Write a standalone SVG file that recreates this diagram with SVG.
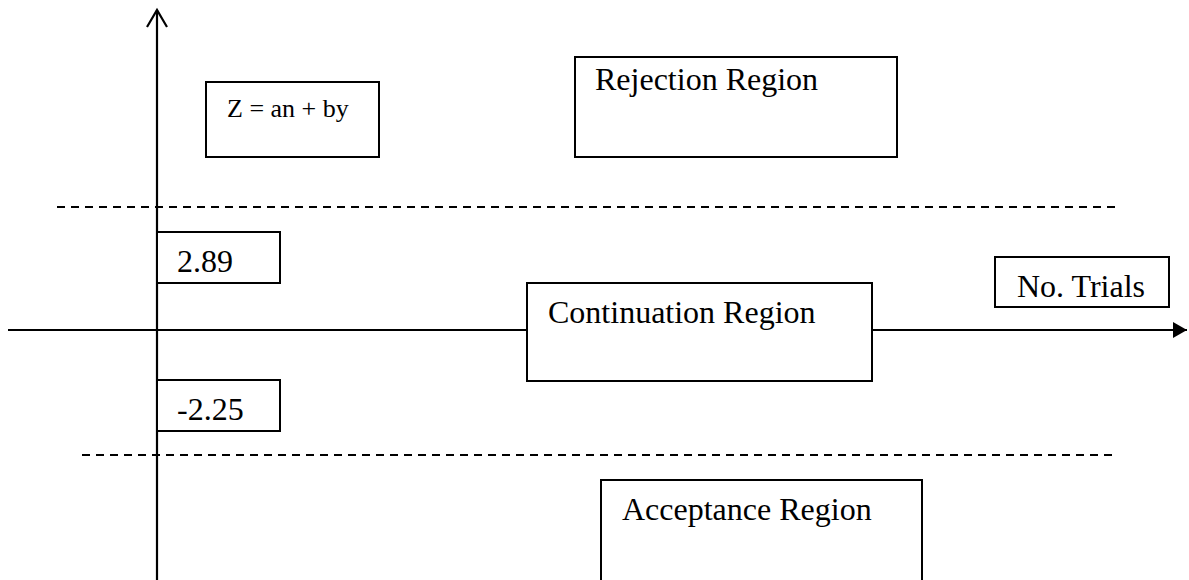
<svg xmlns="http://www.w3.org/2000/svg" width="1189" height="580" viewBox="0 0 1189 580">
<style>
.box{fill:#fff;stroke:#000;stroke-width:2}
.t{font-family:"Liberation Serif","Times New Roman",serif;fill:#000;font-size:32px}
.ax{stroke:#000;stroke-width:2.2;fill:none}
.dash{stroke:#000;stroke-width:2;stroke-dasharray:8 6;fill:none}
</style>
<defs>
<marker id="tri" markerUnits="userSpaceOnUse" markerWidth="16" markerHeight="18" refX="14" refY="9" orient="auto">
<path d="M0,1 L14,9 L0,17 Z" fill="#000"/>
</marker>
</defs>
<rect width="1189" height="580" fill="#fff"/>
<g id="connectors">
<line class="dash" x1="57" y1="207" x2="1116" y2="207"/>
<line class="dash" x1="82" y1="455" x2="1113" y2="455"/>
<line class="ax" x1="8" y1="330" x2="1187" y2="330" marker-end="url(#tri)"/>
<line class="ax" x1="157" y1="10" x2="157" y2="580"/>
<polyline class="ax" points="147,27 157,10 167,27"/>
</g>
<g id="formula">
<rect class="box" x="206" y="82" width="173" height="75"/>
<text class="t" x="227" y="117" style="font-size:26px">Z = an + by</text>
</g>
<g id="rejection">
<rect class="box" x="575" y="57" width="322" height="100"/>
<text class="t" x="595" y="90">Rejection Region</text>
</g>
<g id="upper">
<rect class="box" x="157" y="232" width="123" height="51"/>
<text class="t" x="177" y="272">2.89</text>
</g>
<g id="continuation">
<rect class="box" x="527" y="283" width="345" height="98"/>
<text class="t" x="548" y="323">Continuation Region</text>
</g>
<g id="trials">
<rect class="box" x="995" y="257" width="174" height="50"/>
<text class="t" x="1017" y="297">No. Trials</text>
</g>
<g id="lower">
<rect class="box" x="157" y="380" width="123" height="51"/>
<text class="t" x="177" y="420">-2.25</text>
</g>
<g id="acceptance">
<rect class="box" x="601" y="480" width="321" height="110"/>
<text class="t" x="622" y="520">Acceptance Region</text>
</g>
</svg>
